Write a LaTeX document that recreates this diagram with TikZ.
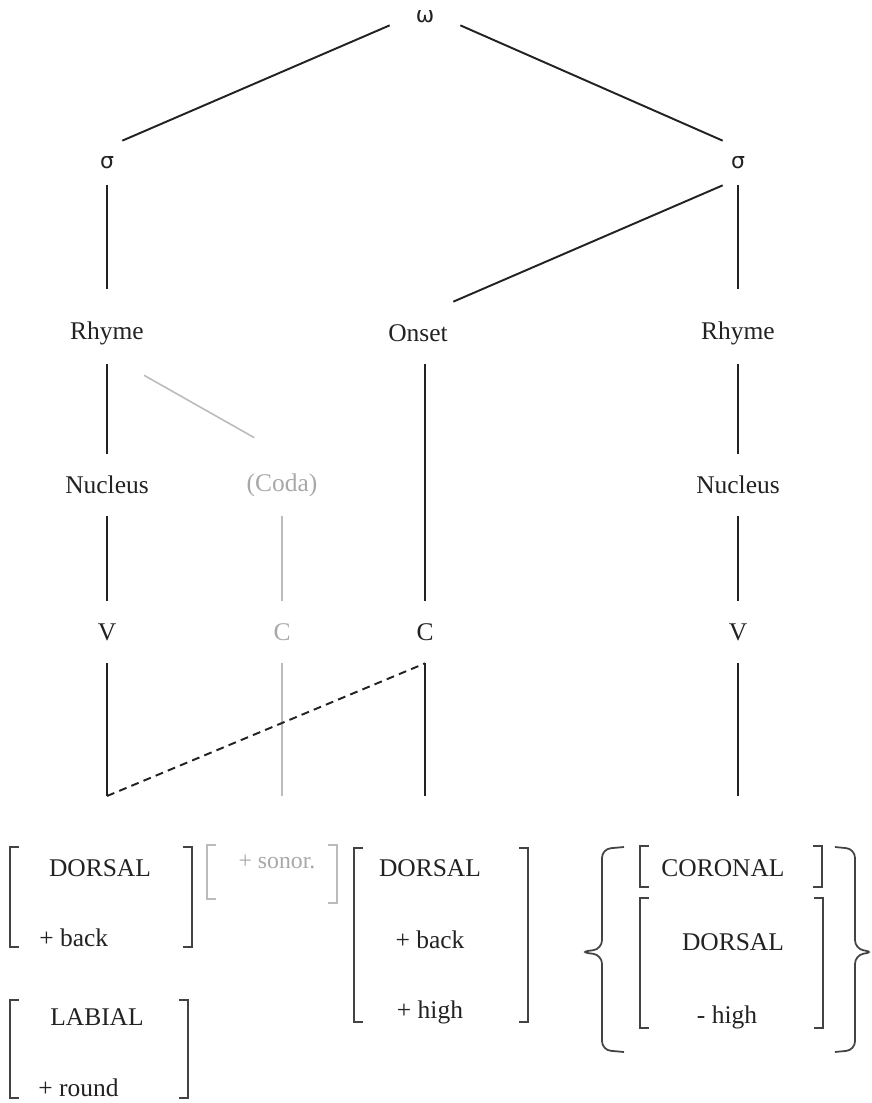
\documentclass[tikz,border=0pt]{standalone}
\usepackage{fontspec}
\setmainfont{Liberation Serif}
\newfontfamily\grk{DejaVu Sans}
\usepackage{tikz}
\usetikzlibrary{calc}
\definecolor{ink}{HTML}{222222}
\definecolor{faded}{HTML}{A8A8A8}
\definecolor{fadedline}{HTML}{BBBBBB}

\begin{document}
\begin{tikzpicture}[x=0.02cm,y=-0.02cm,
  lbl/.style={inner sep=0pt,minimum height=1.24cm,minimum width=1.4cm,font=\fontsize{14.5}{17}\selectfont,text=ink},
  gr/.style={inner sep=0pt,font=\grk\fontsize{12.5}{14}\selectfont,text=ink},
  feat/.style={inner sep=0pt,font=\fontsize{14.5}{17}\selectfont,text=ink},
  tree/.style={draw=ink,line width=1.1pt},
  faint/.style={draw=fadedline,line width=0.9pt},
  brk/.style={draw=ink!85,line width=1pt}]
\useasboundingbox (0,0) rectangle (872,1103);
% prosodic word and syllables
\node[gr,minimum width=1.4cm,minimum height=0.32cm] (om) at (425,17) {ω};
\node[gr,minimum width=0.6cm,minimum height=0.88cm] (sL) at (107,163) {σ};
\node[gr,minimum width=0.6cm,minimum height=0.88cm] (sR) at (738,163) {σ};
% constituents
\node[lbl] (rhL) at (107,333) {Rhyme};
\node[lbl] (on) at (418,333) {Onset};
\node[lbl] (rhR) at (738,333) {Rhyme};
\node[lbl] (nuL) at (107,485) {Nucleus};
\node[lbl,text=faded] (coda) at (282,485) {(Coda)};
\node[lbl] (nuR) at (738,485) {Nucleus};
\node[lbl] (vL) at (107,632) {V};
\node[lbl,text=faded] (cG) at (282,632) {C};
\node[lbl] (cR) at (425,632) {C};
\node[lbl] (vR) at (738,632) {V};
\coordinate (eV1) at (107,796);
\coordinate (eCg) at (282,796);
\coordinate (eC) at (425,796);
\coordinate (eV2) at (738,796);
% branches
\draw[tree] (om.south west) -- (sL.north east);
\draw[tree] (om.south east) -- (sR.north west);
\draw[tree,shorten >=0.26cm] (sL.south) -- (rhL.north);
\draw[tree,shorten >=0.26cm] (sR.south) -- (rhR.north);
\draw[tree] (sR.south west) -- (on.north east);
\draw[tree] (rhL.south) -- (nuL.north);
\draw[faint] ($(rhL.south east)+(0,11)$) -- ($(coda.north west)+(8,-16)$);
\draw[tree] (rhR.south) -- (nuR.north);
\draw[tree] (nuL.south) -- (vL.north);
\draw[faint] (coda.south) -- (cG.north);
\draw[tree] (on.south -| cR) -- (cR.north);
\draw[tree] (nuR.south) -- (vR.north);
\draw[tree] (vL.south) -- (eV1);
\draw[faint] (cG.south) -- (eCg);
\draw[tree] (cR.south) -- (eC);
\draw[tree] (vR.south) -- (eV2);
\draw[tree,dash pattern=on 4.5pt off 3pt] (eV1) -- (cR.south);
% features
\node[feat] (dA) at (100,868) {DORSAL};
\node[feat,anchor=west] (bkA) at (39,938) {+ back};
\node[feat] (lab) at (97,1017) {LABIAL};
\node[feat,anchor=west] (rnd) at (38,1088) {+ round};
\node[feat,text=faded,font=\fontsize{13.5}{15}\selectfont] (son) at (277,862) {+ sonor.};
\node[feat] (dB) at (430,868) {DORSAL};
\node[feat] (bkB) at (430,940) {+ back};
\node[feat] (hiB) at (430,1012) {+ high};
\node[feat] (cor) at (723,868) {CORONAL};
\node[feat] (dC) at (733,942) {DORSAL};
\node[feat] (hiC) at (727,1017) {- high};
% brackets
\foreach \xl/\xr/\yt/\yb in {10/192/847/947, 10/188/1000/1098, 354/528/848/1022, 640/822/846/887, 640/823/898/1028}{
  \draw[brk] (\xl+9,\yt) -- (\xl,\yt) -- (\xl,\yb) -- (\xl+9,\yb);
  \draw[brk] (\xr-9,\yt) -- (\xr,\yt) -- (\xr,\yb) -- (\xr-9,\yb);
}
\draw[brk,draw=fadedline] (216,845) -- (207,845) -- (207,899) -- (216,899);
\draw[brk,draw=fadedline] (328,845) -- (337,845) -- (337,903) -- (328,903);
% braces
\draw[brk,rounded corners=5pt] (624,847) -- (602,849) -- (602,949) -- (580,952) -- (602,955) -- (602,1050) -- (624,1052);
\draw[brk,rounded corners=5pt] (835,847) -- (855,849) -- (855,949) -- (874,952) -- (855,955) -- (855,1050) -- (835,1052);
\end{tikzpicture}
\end{document}
